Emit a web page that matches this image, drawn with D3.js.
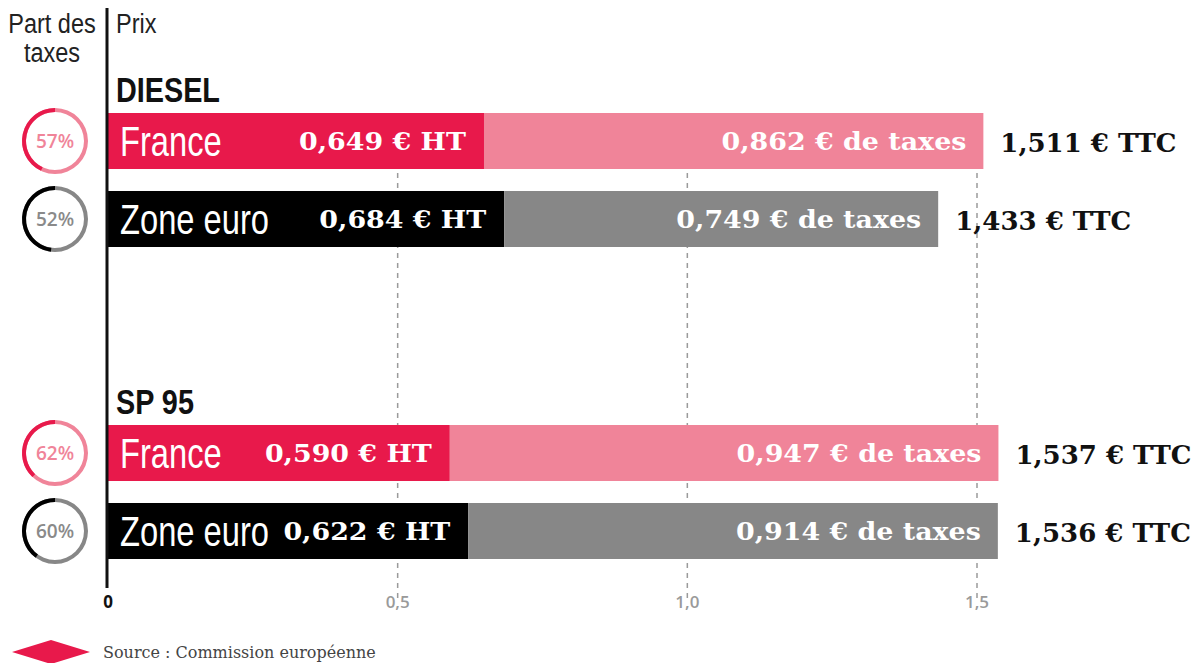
<!DOCTYPE html>
<html><head><meta charset="utf-8">
<script src="https://cdn.jsdelivr.net/npm/d3@7"></script>
<style>body{margin:0;background:#fff}svg{display:block}</style>
</head><body>
<svg id="c" width="1193" height="663"></svg>
<script>
const groups = ["DIESEL", "SP 95"];
const zones = ["France", "Zone euro"];
const htValues = [0.649, 0.684, 0.590, 0.622];
const taxValues = [0.862, 0.749, 0.947, 0.914];
const ttcValues = [1.511, 1.433, 1.537, 1.536];
const taxShare = [57, 52, 62, 60];
const tickValues = [0, 0.5, 1.0, 1.5];
const tickLabels = ["0", "0,5", "1,0", "1,5"];

const fmt = v => d3.format(".3f")(v).replace(".", ",");
const rows = [];
groups.forEach((g, gi) => zones.forEach((z, zi) => {
  const i = gi * zones.length + zi;
  rows.push({group: g, zone: z, ht: htValues[i], tax: taxValues[i], ttc: ttcValues[i], share: taxShare[i]});
}));

const colors = {
  "France": {ht: "#e8194b", tax: "#f08499", pct: "#f08499"},
  "Zone euro": {ht: "#000000", tax: "#878787", pct: "#8a8a8a"}
};

const svg = d3.select("#c");
const x = d3.scaleLinear().domain([0, 1.5]).range([108, 977]);
const yGroup = d3.scalePoint().domain(groups).range([113, 425]);
const yRow = d3.scaleBand().domain(zones).range([0, 134]).paddingInner(0.282).paddingOuter(0);
const yTop = d => yGroup(d.group) + yRow(d.zone);
const bw = yRow.bandwidth();

const sans = "'Liberation Sans',Arial,sans-serif";
const slab = "'DejaVu Serif',serif";
const tr = (tx, ty, sx) => `translate(${tx},${ty}) scale(${sx},1)`;

// gridlines
svg.append("g").selectAll("line").data(tickValues.slice(1)).join("line")
  .attr("x1", d => x(d)).attr("x2", d => x(d))
  .attr("y1", 113).attr("y2", 598)
  .attr("stroke", "#9a9a9a").attr("stroke-width", 1.5).attr("stroke-dasharray", "5,5");

// tick labels
svg.append("g").selectAll("text").data(tickValues).join("text")
  .attr("x", d => x(d)).attr("y", 608)
  .attr("text-anchor", "middle")
  .attr("font-family", "'Open Sans',sans-serif").attr("font-size", 17)
  .attr("font-weight", d => d === 0 ? "bold" : "600")
  .attr("fill", d => d === 0 ? "#111" : "#9a9a9a")
  .text((d, i) => tickLabels[i]);

// bars
const bars = svg.append("g");
bars.selectAll("rect.ht").data(rows).join("rect").attr("class", "ht")
  .attr("x", x(0)).attr("y", yTop).attr("height", bw)
  .attr("width", d => x(d.ht) - x(0)).attr("fill", d => colors[d.zone].ht);
bars.selectAll("rect.tax").data(rows).join("rect").attr("class", "tax")
  .attr("x", d => x(d.ht)).attr("y", yTop).attr("height", bw)
  .attr("width", d => x(d.ht + d.tax) - x(d.ht)).attr("fill", d => colors[d.zone].tax);

// zone labels (condensed)
bars.selectAll("text.zone").data(rows).join("text").attr("class", "zone")
  .attr("transform", d => tr(x(0) + 12, yTop(d) + bw / 2 + 15, 0.76))
  .attr("font-family", sans).attr("font-size", 43).attr("fill", "#fff")
  .text(d => d.zone);

// HT labels
bars.selectAll("text.htl").data(rows).join("text").attr("class", "htl")
  .attr("transform", d => tr(x(d.ht) - 18, yTop(d) + bw / 2 + 9, 1.12))
  .attr("text-anchor", "end").attr("font-family", slab).attr("font-weight", "bold")
  .attr("font-size", 24).attr("fill", "#fff")
  .text(d => fmt(d.ht) + " € HT");

// tax labels
bars.selectAll("text.taxl").data(rows).join("text").attr("class", "taxl")
  .attr("transform", d => tr(x(d.ht + d.tax) - 17, yTop(d) + bw / 2 + 9, 1.12))
  .attr("text-anchor", "end").attr("font-family", slab).attr("font-weight", "bold")
  .attr("font-size", 24).attr("fill", "#fff")
  .text(d => fmt(d.tax) + " € de taxes");

// TTC labels
bars.selectAll("text.ttc").data(rows).join("text").attr("class", "ttc")
  .attr("x", d => x(d.ttc) + 17).attr("y", d => yTop(d) + bw / 2 + 11)
  .attr("font-family", slab).attr("font-weight", "bold")
  .attr("font-size", 26).attr("fill", "#111")
  .text(d => fmt(d.ttc) + " € TTC");

// group titles
svg.append("g").selectAll("text").data(groups).join("text")
  .attr("transform", g => tr(116, yGroup(g) - 11, 0.8))
  .attr("font-family", sans).attr("font-weight", "bold").attr("font-size", 36).attr("fill", "#111")
  .text(g => g);

// donuts
const arc = d3.arc().innerRadius(29).outerRadius(33);
const donuts = svg.append("g").selectAll("g").data(rows).join("g")
  .attr("transform", d => `translate(55,${yTop(d) + bw / 2})`);
donuts.append("path").attr("fill", d => colors[d.zone].tax)
  .attr("d", d => arc({startAngle: 0, endAngle: 2 * Math.PI}));
donuts.append("path").attr("fill", d => colors[d.zone].ht)
  .attr("d", d => arc({startAngle: -(100 - d.share) / 100 * 2 * Math.PI, endAngle: 0}));
donuts.append("text").attr("text-anchor", "middle").attr("y", 7)
  .attr("font-family", "'Open Sans',sans-serif").attr("font-weight", "600").attr("font-size", 19)
  .attr("fill", d => colors[d.zone].pct).text(d => d.share + "%");

// axis line
svg.append("line").attr("x1", 107).attr("x2", 107).attr("y1", 8).attr("y2", 588)
  .attr("stroke", "#111").attr("stroke-width", 3);

// headers
const hdr = svg.append("g").attr("font-family", sans).attr("font-size", 28).attr("fill", "#222");
hdr.append("text").attr("transform", tr(52, 33, 0.84)).attr("text-anchor", "middle").text("Part des");
hdr.append("text").attr("transform", tr(52, 62, 0.84)).attr("text-anchor", "middle").text("taxes");
hdr.append("text").attr("transform", tr(116, 33, 0.84)).text("Prix");

// source
svg.append("path").attr("d", "M12,652 L51,640 L90,652 L51,664 Z").attr("fill", "#e8194b");
svg.append("text").attr("x", 103).attr("y", 658).attr("font-family", slab)
  .attr("font-size", 16).attr("fill", "#444").text("Source : Commission européenne");
</script>
</body></html>
